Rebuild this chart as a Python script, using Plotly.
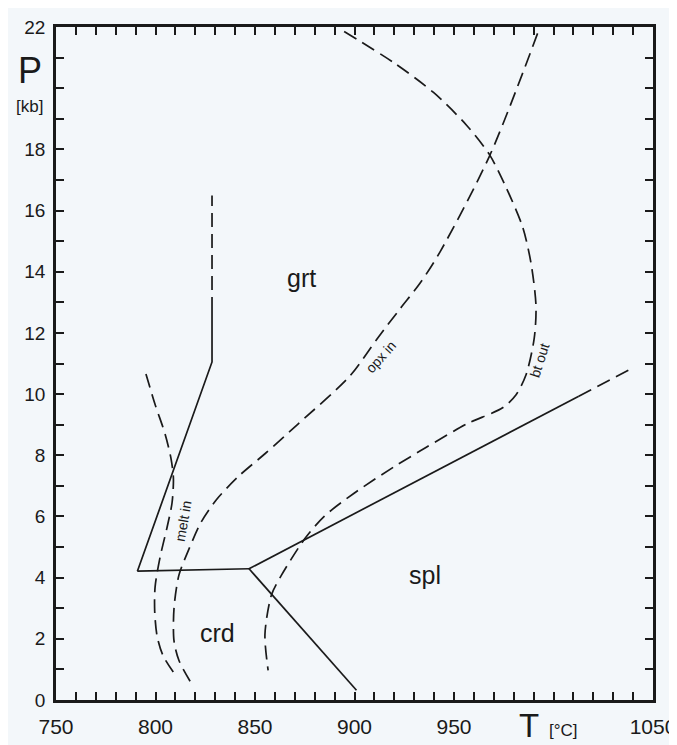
import plotly.graph_objects as go

# ---- data (T in °C, P in kb) ----
# solid phase boundaries
crd_grt_T = [790.9, 828.4, 828.4]
crd_grt_P = [4.21, 11.05, 12.72]
crd_grt_ext_T = [828.4, 828.4]
crd_grt_ext_P = [12.72, 16.49]
crd_flat_T = [790.9, 847.0]
crd_flat_P = [4.21, 4.29]
crd_spl_T = [847.0, 901.0]
crd_spl_P = [4.29, 0.32]
grt_spl_T = [847.0, 1012.7]
grt_spl_P = [4.29, 9.93]
grt_spl_ext_T = [1012.7, 1039.3]
grt_spl_ext_P = [9.93, 10.84]

# dashed reaction curves
melt_T = [795.2, 799.8, 804.8, 807.8, 809.0, 808.3, 805.8, 802.3, 799.8, 799.6, 800.8, 803.8, 810.8]
melt_P = [10.66, 9.66, 8.70, 7.89, 7.25, 6.44, 5.64, 4.67, 3.70, 2.90, 2.09, 1.45, 0.74]
opx_T = [992.0, 967.9, 943.0, 932.9, 922.9, 911.5, 897.5, 871.6, 855.0, 841.7, 830.5,
         822.8, 816.8, 811.8, 809.3, 809.3, 811.8, 817.6]
opx_P = [21.79, 17.79, 14.65, 13.62, 12.79, 11.82, 10.58, 9.02, 8.05, 7.31, 6.54,
         5.80, 4.93, 4.09, 3.0, 1.93, 1.29, 0.59]
bt_T = [894.8, 919.8, 939.7, 956.3, 967.9, 976.2, 984.5, 988.7, 991.2, 990.3, 986.2, 981.2,
        974.6, 956.3, 936.3, 919.8, 899.8, 884.9, 874.9, 863.3, 858.3, 855.0, 856.6]
bt_P = [21.85, 20.83, 19.86, 18.79, 17.82, 16.75, 15.46, 14.28, 12.88, 11.82, 10.63, 9.98,
        9.56, 9.02, 8.27, 7.62, 6.76, 6.01, 5.26, 4.08, 3.44, 2.15, 0.97]

# field labels
field_names = ["grt", "crd", "spl"]
field_T = [873.6, 831.2, 935.3]
field_P = [13.78, 2.19, 4.09]

curve_names = ["melt in", "opx in", "bt out"]
curve_T = [813.8, 913.1, 993.1]
curve_P = [5.86, 11.22, 11.11]
curve_angle = [-80, -48, -72]

x_ticks = list(range(750, 1051, 10))
x_labels = {750: "750", 800: "800", 850: "850", 900: "900", 950: "950", 1050: "1050"}
y_ticks = list(range(0, 23))
y_labels = {0: "0", 2: "2", 4: "4", 6: "6", 8: "8", 10: "10", 12: "12", 14: "14",
            16: "16", 18: "18", 22: "22"}

BG = "#f3f7fa"
INK = "#1a1a1a"
DASH = "14px,7px"
LW = 1.7

fig = go.Figure()

def add_line(T, P, dash="solid", shape="linear"):
    fig.add_trace(go.Scatter(x=T, y=P, mode="lines",
                             line=dict(color=INK, width=LW, dash=dash, shape=shape,
                                       smoothing=0.8),
                             hoverinfo="skip", showlegend=False))

add_line(crd_grt_T, crd_grt_P)
add_line(crd_grt_ext_T, crd_grt_ext_P, dash=DASH)
add_line(crd_flat_T, crd_flat_P)
add_line(crd_spl_T, crd_spl_P)
add_line(grt_spl_T, grt_spl_P)
add_line(grt_spl_ext_T, grt_spl_ext_P, dash=DASH)
add_line(melt_T, melt_P, dash=DASH, shape="spline")
add_line(opx_T, opx_P, dash=DASH, shape="spline")
add_line(bt_T, bt_P, dash=DASH, shape="spline")

FONT = "Liberation Sans"

for name, t, p in zip(field_names, field_T, field_P):
    fig.add_annotation(x=t, y=p, text=name, showarrow=False,
                       font=dict(family=FONT, size=25, color=INK))
for name, t, p, a in zip(curve_names, curve_T, curve_P, curve_angle):
    fig.add_annotation(x=t, y=p, text=name, showarrow=False, textangle=a,
                       font=dict(family=FONT, size=14, color=INK))

# axis titles
fig.add_annotation(xref="paper", yref="paper", x=-0.043, y=0.935, text="P", showarrow=False,
                   font=dict(family=FONT, size=36, color=INK), xanchor="center", yanchor="middle")
fig.add_annotation(xref="paper", yref="paper", x=-0.045, y=0.882, text="[kb]", showarrow=False,
                   font=dict(family=FONT, size=17, color=INK), xanchor="center", yanchor="middle")
fig.add_annotation(xref="paper", yref="paper", x=0.792, y=-0.038, text="T", showarrow=False,
                   font=dict(family=FONT, size=33, color=INK), xanchor="center", yanchor="middle")
fig.add_annotation(xref="paper", yref="paper", x=0.85, y=-0.045, text="[°C]", showarrow=False,
                   font=dict(family=FONT, size=17, color=INK), xanchor="center", yanchor="middle")

fig.update_xaxes(range=[750, 1050], tickmode="array", tickvals=x_ticks,
                 ticktext=[x_labels.get(v, "") for v in x_ticks],
                 ticks="inside", ticklen=8, tickwidth=1.6, tickcolor=INK,
                 showline=True, linewidth=2.5, linecolor=INK, mirror="ticks",
                 showgrid=False, zeroline=False, ticklabelstandoff=6,
                 tickfont=dict(family=FONT, size=21, color=INK))
fig.update_yaxes(range=[0, 22], tickmode="array", tickvals=y_ticks,
                 ticktext=[y_labels.get(v, "") for v in y_ticks],
                 ticks="inside", ticklen=8, tickwidth=1.6, tickcolor=INK,
                 showline=True, linewidth=2.5, linecolor=INK, mirror="ticks",
                 showgrid=False, zeroline=False, ticklabelstandoff=4,
                 tickfont=dict(family=FONT, size=19, color=INK))

# page body has an 8px default margin, so margins are shifted to place the plot area
fig.update_layout(width=677, height=745, paper_bgcolor=BG, plot_bgcolor=BG,
                  margin=dict(l=48, r=27, t=9, b=53), showlegend=False)

fig.write_html("out.html")
